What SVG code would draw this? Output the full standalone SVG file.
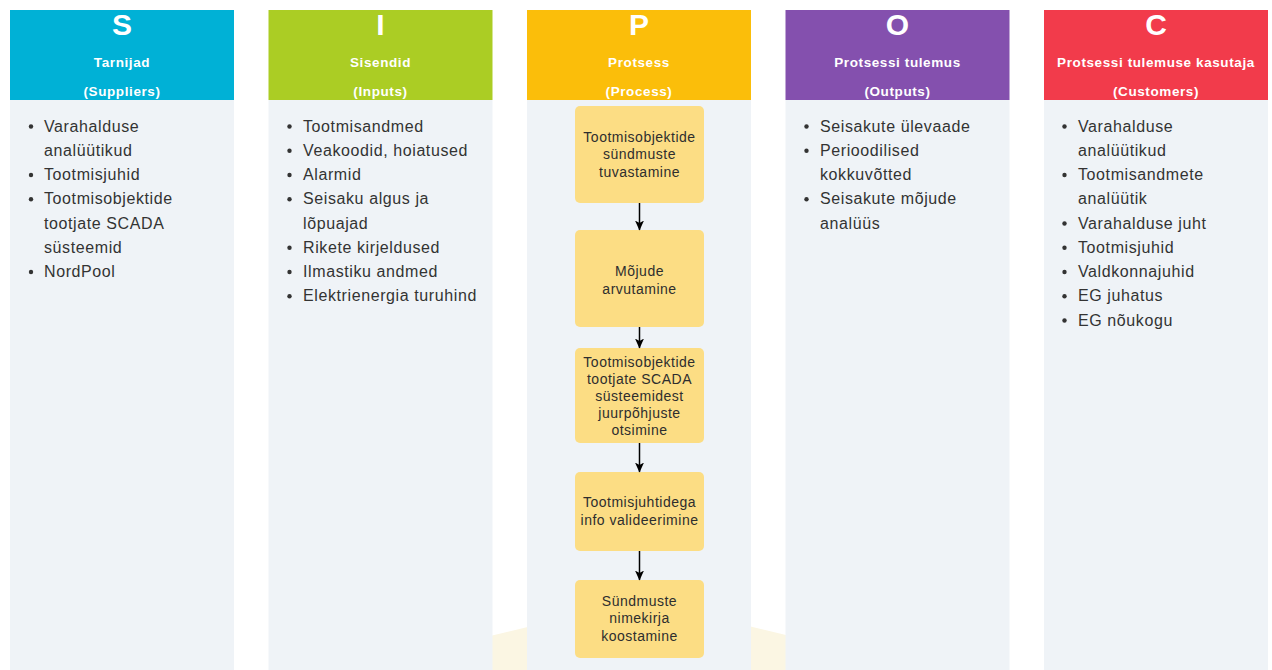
<svg xmlns="http://www.w3.org/2000/svg" width="1272" height="670" viewBox="0 0 1272 670">
  <style>
    .body { fill: #EFF3F7; }
    .letter { font-family: "Liberation Sans", Arial, sans-serif; font-size: 30px; font-weight: bold; fill: #FFFFFF; text-anchor: middle; }
    .title { font-family: "Liberation Sans", Arial, sans-serif; font-size: 13.5px; font-weight: bold; letter-spacing: 0.6px; fill: #FFFFFF; text-anchor: middle; }
    .item { font-family: "Liberation Sans", Arial, sans-serif; font-size: 16px; letter-spacing: 0.6px; fill: #333333; }
    .dot { fill: #333333; }
    .step rect { fill: #FCDD84; }
    .step text { font-family: "Liberation Sans", Arial, sans-serif; font-size: 14px; letter-spacing: 0.5px; fill: #2E2E2E; text-anchor: middle; }
    .link { stroke: #000000; stroke-width: 1.5; fill: none; }
  </style>
  <defs>
    <marker id="arrow" viewBox="0 0 10 10" refX="9.5" refY="5" markerWidth="10" markerHeight="10" markerUnits="userSpaceOnUse" orient="auto">
      <path d="M0,0.5 L10,5 L0,9.5 L2.5,5 Z" fill="#000000"/>
    </marker>
  </defs>

  <rect x="0" y="0" width="1272" height="670" fill="#FFFFFF"/>

  <!-- soft backdrop behind the process column -->
  <polygon points="440,648 640,600 840,648 840,670 440,670" fill="#FBF6E3"/>

  <!-- S: suppliers -->
  <g id="col-suppliers">
    <rect class="body" x="10" y="100" width="224" height="570"/>
    <rect x="10" y="10" width="224" height="90" fill="#00B1D6"/>
    <text class="letter" x="122" y="35">S</text>
    <text class="title" x="122" y="67">Tarnijad</text>
    <text class="title" x="122" y="96">(Suppliers)</text>
    <g class="dot">
      <circle cx="31" cy="126.5" r="2.2"/>
      <circle cx="31" cy="175" r="2.2"/>
      <circle cx="31" cy="199.25" r="2.2"/>
      <circle cx="31" cy="272" r="2.2"/>
    </g>
    <text class="item">
      <tspan x="44" y="131.5">Varahalduse</tspan>
      <tspan x="44" y="155.75">analüütikud</tspan>
      <tspan x="44" y="180">Tootmisjuhid</tspan>
      <tspan x="44" y="204.25">Tootmisobjektide</tspan>
      <tspan x="44" y="228.5">tootjate SCADA</tspan>
      <tspan x="44" y="252.75">süsteemid</tspan>
      <tspan x="44" y="277">NordPool</tspan>
    </text>
  </g>

  <!-- I: inputs -->
  <g id="col-inputs">
    <rect class="body" x="268.5" y="100" width="224" height="570"/>
    <rect x="268.5" y="10" width="224" height="90" fill="#ABCD24"/>
    <text class="letter" x="380.5" y="35">I</text>
    <text class="title" x="380.5" y="67">Sisendid</text>
    <text class="title" x="380.5" y="96">(Inputs)</text>
    <g class="dot">
      <circle cx="289.5" cy="126.5" r="2.2"/>
      <circle cx="289.5" cy="150.75" r="2.2"/>
      <circle cx="289.5" cy="175" r="2.2"/>
      <circle cx="289.5" cy="199.25" r="2.2"/>
      <circle cx="289.5" cy="247.75" r="2.2"/>
      <circle cx="289.5" cy="272" r="2.2"/>
      <circle cx="289.5" cy="296.25" r="2.2"/>
    </g>
    <text class="item">
      <tspan x="303" y="131.5">Tootmisandmed</tspan>
      <tspan x="303" y="155.75">Veakoodid, hoiatused</tspan>
      <tspan x="303" y="180">Alarmid</tspan>
      <tspan x="303" y="204.25">Seisaku algus ja</tspan>
      <tspan x="303" y="228.5">lõpuajad</tspan>
      <tspan x="303" y="252.75">Rikete kirjeldused</tspan>
      <tspan x="303" y="277">Ilmastiku andmed</tspan>
      <tspan x="303" y="301.25">Elektrienergia turuhind</tspan>
    </text>
  </g>

  <!-- P: process -->
  <g id="col-process">
    <rect class="body" x="527" y="100" width="224" height="570"/>
    <rect x="527" y="10" width="224" height="90" fill="#FBBE0A"/>
    <text class="letter" x="639" y="35">P</text>
    <text class="title" x="639" y="67">Protsess</text>
    <text class="title" x="639" y="96">(Process)</text>
  </g>

  <!-- O: outputs -->
  <g id="col-outputs">
    <rect class="body" x="785.5" y="100" width="224" height="570"/>
    <rect x="785.5" y="10" width="224" height="90" fill="#8450AE"/>
    <text class="letter" x="897.5" y="35">O</text>
    <text class="title" x="897.5" y="67">Protsessi tulemus</text>
    <text class="title" x="897.5" y="96">(Outputs)</text>
    <g class="dot">
      <circle cx="806.5" cy="126.5" r="2.2"/>
      <circle cx="806.5" cy="150.75" r="2.2"/>
      <circle cx="806.5" cy="199.25" r="2.2"/>
    </g>
    <text class="item">
      <tspan x="820" y="131.5">Seisakute ülevaade</tspan>
      <tspan x="820" y="155.75">Perioodilised</tspan>
      <tspan x="820" y="180">kokkuvõtted</tspan>
      <tspan x="820" y="204.25">Seisakute mõjude</tspan>
      <tspan x="820" y="228.5">analüüs</tspan>
    </text>
  </g>

  <!-- C: customers -->
  <g id="col-customers">
    <rect class="body" x="1044" y="100" width="224" height="570"/>
    <rect x="1044" y="10" width="224" height="90" fill="#F23B4B"/>
    <text class="letter" x="1156" y="35">C</text>
    <text class="title" x="1156" y="67">Protsessi tulemuse kasutaja</text>
    <text class="title" x="1156" y="96">(Customers)</text>
    <g class="dot">
      <circle cx="1064.5" cy="126.5" r="2.2"/>
      <circle cx="1064.5" cy="175" r="2.2"/>
      <circle cx="1064.5" cy="223.5" r="2.2"/>
      <circle cx="1064.5" cy="247.75" r="2.2"/>
      <circle cx="1064.5" cy="272" r="2.2"/>
      <circle cx="1064.5" cy="296.25" r="2.2"/>
      <circle cx="1064.5" cy="320.5" r="2.2"/>
    </g>
    <text class="item">
      <tspan x="1078" y="131.5">Varahalduse</tspan>
      <tspan x="1078" y="155.75">analüütikud</tspan>
      <tspan x="1078" y="180">Tootmisandmete</tspan>
      <tspan x="1078" y="204.25">analüütik</tspan>
      <tspan x="1078" y="228.5">Varahalduse juht</tspan>
      <tspan x="1078" y="252.75">Tootmisjuhid</tspan>
      <tspan x="1078" y="277">Valdkonnajuhid</tspan>
      <tspan x="1078" y="301.25">EG juhatus</tspan>
      <tspan x="1078" y="325.5">EG nõukogu</tspan>
    </text>
  </g>

  <!-- process steps -->
  <g id="step-1" class="step">
    <rect x="575" y="106" width="129" height="97" rx="5"/>
    <text><tspan x="639.5" y="142">Tootmisobjektide</tspan><tspan x="639.5" y="159">sündmuste</tspan><tspan x="639.5" y="176.5">tuvastamine</tspan></text>
  </g>
  <g id="step-2" class="step">
    <rect x="575" y="230" width="129" height="97" rx="5"/>
    <text><tspan x="639.5" y="276">Mõjude</tspan><tspan x="639.5" y="294">arvutamine</tspan></text>
  </g>
  <g id="step-3" class="step">
    <rect x="575" y="348" width="129" height="95" rx="5"/>
    <text><tspan x="639.5" y="366.5">Tootmisobjektide</tspan><tspan x="639.5" y="383.5">tootjate SCADA</tspan><tspan x="639.5" y="400.5">süsteemidest</tspan><tspan x="639.5" y="417.5">juurpõhjuste</tspan><tspan x="639.5" y="434.5">otsimine</tspan></text>
  </g>
  <g id="step-4" class="step">
    <rect x="575" y="472" width="129" height="79" rx="5"/>
    <text><tspan x="639.5" y="507">Tootmisjuhtidega</tspan><tspan x="639.5" y="524.5">info valideerimine</tspan></text>
  </g>
  <g id="step-5" class="step">
    <rect x="575" y="580" width="129" height="78" rx="5"/>
    <text><tspan x="639.5" y="606">Sündmuste</tspan><tspan x="639.5" y="623">nimekirja</tspan><tspan x="639.5" y="640.5">koostamine</tspan></text>
  </g>

  <!-- connectors between process steps -->
  <g id="connectors">
    <line class="link" x1="639.5" y1="203" x2="639.5" y2="230" marker-end="url(#arrow)"/>
    <line class="link" x1="639.5" y1="327" x2="639.5" y2="348" marker-end="url(#arrow)"/>
    <line class="link" x1="639.5" y1="443" x2="639.5" y2="472" marker-end="url(#arrow)"/>
    <line class="link" x1="639.5" y1="551" x2="639.5" y2="580" marker-end="url(#arrow)"/>
  </g>
</svg>
